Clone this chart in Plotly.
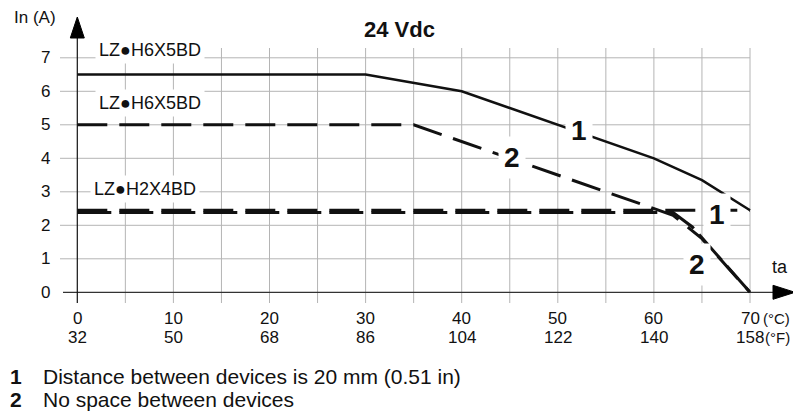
import plotly.graph_objects as go

OFF = 8               # page body margin of the browser
W, H = 801 - OFF, 412 - OFF
# pixel calibration of the chart frame (window pixels)
X0, SX = 77.3, 9.61   # px of 0 °C, px per °C
Y0, SY = 292.3, 33.5  # px of 0 A, px per A

# ---- data ----
temps_c = [0, 10, 20, 30, 40, 50, 60, 70]
temps_f = [32, 50, 68, 86, 104, 122, 140, 158]
current_ticks = [0, 1, 2, 3, 4, 5, 6, 7]

h6_gap_t = [0, 30, 40, 50, 60, 65, 70]
h6_gap_i = [6.5, 6.5, 6.0, 5.0, 4.0, 3.35, 2.45]
h6_nogap_t = [0, 35, 62, 65, 70]
h6_nogap_i = [5, 5, 2.3, 1.6, 0]
h2_gap_t = [0, 70]
h2_gap_i = [2.45, 2.45]
h2_nogap_t = [0, 62, 64, 66, 70]
h2_nogap_i = [2.38, 2.38, 1.95, 1.3, 0]

model_labels = ["LZ●H6X5BD", "LZ●H6X5BD", "LZ●H2X4BD"]
footnotes = [("1", "Distance between devices is 20 mm (0.51 in)"),
             ("2", "No space between devices")]

FONT = "Liberation Sans, Arial, sans-serif"


def dx(px):
    return (px - X0) / SX


def dy(py):
    return (Y0 - py) / SY


def px_paper(px):
    return (px - OFF) / W


def py_paper(py):
    return 1 - (py - OFF) / H


fig = go.Figure()

line_c = "#111111"
fig.add_trace(go.Scatter(x=h6_gap_t, y=h6_gap_i, mode="lines",
                         line=dict(color=line_c, width=2.5), showlegend=False))
fig.add_trace(go.Scatter(x=h6_nogap_t, y=h6_nogap_i, mode="lines",
                         line=dict(color=line_c, width=3, dash="30px,12px"), showlegend=False))
fig.add_trace(go.Scatter(x=h2_gap_t, y=h2_gap_i, mode="lines",
                         line=dict(color=line_c, width=3, dash="30px,12px"), showlegend=False))
fig.add_trace(go.Scatter(x=h2_nogap_t, y=h2_nogap_i, mode="lines",
                         line=dict(color=line_c, width=3, dash="34px,8px"), showlegend=False))

shapes = []
grid_c = "#b4b4b4"
# horizontal grid lines
for v in current_ticks[1:]:
    shapes.append(dict(type="line", xref="x", yref="y", x0=dx(60), x1=70, y0=v, y1=v,
                       line=dict(color=grid_c, width=1), layer="below"))
# vertical grid lines every 5 °C
for t in range(5, 75, 5):
    shapes.append(dict(type="line", xref="x", yref="y", x0=t, x1=t, y0=dy(303), y1=dy(48),
                       line=dict(color=grid_c, width=1), layer="below"))
# axes
shapes.append(dict(type="line", xref="x", yref="y", x0=dx(63), x1=dx(775), y0=0, y1=0,
                   line=dict(color="#333333", width=1.3), layer="below"))
shapes.append(dict(type="line", xref="x", yref="y", x0=0, x1=0, y0=dy(303), y1=dy(36),
                   line=dict(color="#111111", width=1.2), layer="below"))
# arrow heads
shapes.append(dict(type="path", xref="x", yref="y",
                   path=f"M {dx(70.3)} {dy(38)} L {dx(84.3)} {dy(38)} L {dx(77.3)} {dy(17)} Z",
                   fillcolor="black", line=dict(color="black", width=1)))
shapes.append(dict(type="path", xref="x", yref="y",
                   path=f"M {dx(773)} {dy(285.3)} L {dx(773)} {dy(299.3)} L {dx(795)} {dy(292.3)} Z",
                   fillcolor="black", line=dict(color="black", width=1)))

ann = []
TICK = 17
# y tick labels
for v in current_ticks:
    ann.append(dict(x=px_paper(45), y=v, xref="paper", yref="y", text=str(v), showarrow=False,
                    xanchor="center", yanchor="middle", font=dict(size=TICK, color="#111")))
# x tick labels
for c, f in zip(temps_c, temps_f):
    ann.append(dict(x=c, y=py_paper(318), xref="x", yref="paper", text=str(c), showarrow=False,
                    xanchor="center", yanchor="middle", font=dict(size=TICK, color="#111")))
    ann.append(dict(x=c, y=py_paper(337), xref="x", yref="paper", text=str(f), showarrow=False,
                    xanchor="center", yanchor="middle", font=dict(size=TICK, color="#111")))
ann.append(dict(x=px_paper(792), y=py_paper(318), xref="paper", yref="paper", text="(°C)",
                showarrow=False, xanchor="right", yanchor="middle", font=dict(size=15, color="#111")))
ann.append(dict(x=px_paper(792), y=py_paper(337), xref="paper", yref="paper", text="(°F)",
                showarrow=False, xanchor="right", yanchor="middle", font=dict(size=15, color="#111")))
ann.append(dict(x=px_paper(780), y=py_paper(267), xref="paper", yref="paper", text="ta",
                showarrow=False, xanchor="center", yanchor="middle", font=dict(size=18, color="#111")))
ann.append(dict(x=px_paper(12), y=py_paper(17), xref="paper", yref="paper", text="In (A)",
                showarrow=False, xanchor="left", yanchor="middle", font=dict(size=17, color="#111")))
ann.append(dict(x=px_paper(399), y=py_paper(29), xref="paper", yref="paper", text="<b>24 Vdc</b>",
                showarrow=False, xanchor="center", yanchor="middle", font=dict(size=22, color="#111")))
# model labels
for lab, (cx, cy) in zip(model_labels, [(150, 50), (150, 103), (145, 189)]):
    ann.append(dict(x=px_paper(cx), y=py_paper(cy), xref="paper", yref="paper", text=lab,
                    showarrow=False, xanchor="center", yanchor="middle", bgcolor="white",
                    borderpad=3, font=dict(size=18, color="#111")))
# curve numbers
for num, (cx, cy) in zip(["1", "2", "1", "2"], [(579, 130), (512, 157), (717, 214), (697, 264)]):
    ann.append(dict(x=px_paper(cx), y=py_paper(cy), xref="paper", yref="paper", text=f"<b>{num}</b>",
                    showarrow=False, xanchor="center", yanchor="middle", bgcolor="white",
                    borderpad=5, font=dict(size=28, color="#111")))
# footnotes
for (num, txt), cy in zip(footnotes, [376, 399]):
    ann.append(dict(x=px_paper(8), y=py_paper(cy), xref="paper", yref="paper", text=f"<b>{num}</b>",
                    showarrow=False, xanchor="left", yanchor="middle", font=dict(size=21, color="#111")))
    ann.append(dict(x=px_paper(41), y=py_paper(cy), xref="paper", yref="paper", text=txt,
                    showarrow=False, xanchor="left", yanchor="middle", font=dict(size=21, color="#111")))

fig.update_layout(
    width=W, height=H, margin=dict(l=0, r=0, t=0, b=0),
    paper_bgcolor="white", plot_bgcolor="white",
    font=dict(family=FONT, color="#111"),
    xaxis=dict(range=[dx(OFF), dx(OFF + W)], visible=False, fixedrange=True),
    yaxis=dict(range=[dy(OFF + H), dy(OFF)], visible=False, fixedrange=True),
    shapes=shapes, annotations=ann, showlegend=False,
)

fig.write_html("out.html")
